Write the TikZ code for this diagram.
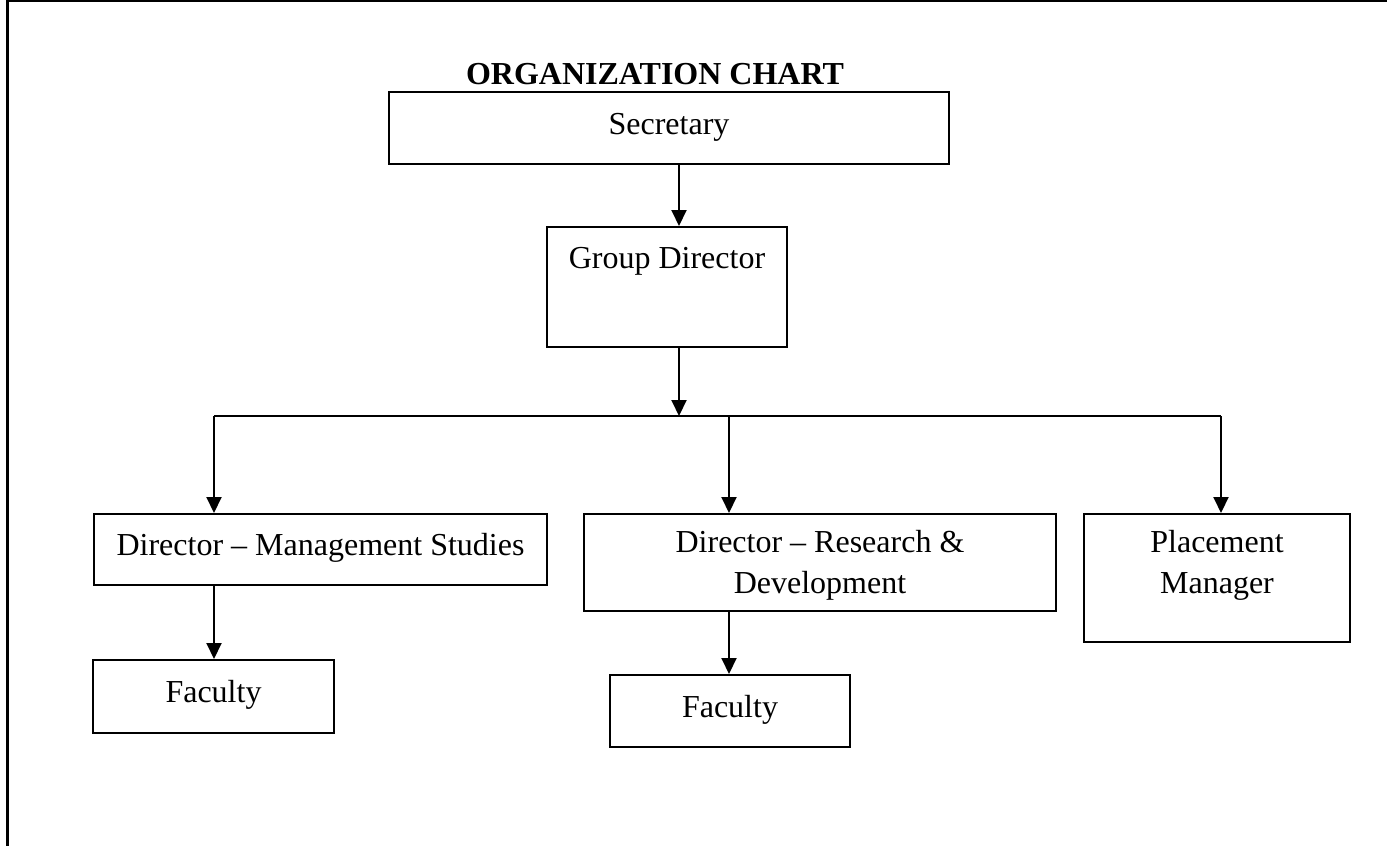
\documentclass[tikz,border=0pt]{standalone}
\usepackage{fontspec}
\setmainfont{Liberation Serif}
\usepackage{tikz}
\usetikzlibrary{arrows.meta}
\tikzset{
 box/.style={draw, line width=2pt, anchor=north, inner xsep=0pt, inner ysep=0pt,
  text height=20pt, text depth=8pt, align=center, font=\fontsize{32}{41}\selectfont},
 topbox/.style={box, inner ysep=18pt, text height=61pt, text depth=#1},
 arr/.style={line width=2pt, -{Triangle[width=15pt,length=16pt]}}
}

\begin{document}
\begin{tikzpicture}[x=1pt,y=-1pt]
\useasboundingbox (0,0) rectangle (1387,846);
\draw[line width=2.5pt] (7.5,846) -- (7.5,1) -- (1387,1);

\node[anchor=base, font=\fontsize{32}{41}\selectfont\bfseries] (title) at (655,84) {ORGANIZATION CHART};
\node[box, minimum width=560pt, minimum height=72pt] (sec) at (669,91) {Secretary};
\node[box, inner ysep=21pt, text depth=58pt, minimum width=240pt] (gd) at (667,226) {Group Director};
\node[box, minimum width=453pt, minimum height=71pt] (dms) at (320.5,513) {Director -- Management Studies};
\node[topbox=0pt, minimum width=472pt] (drd) at (820,513) {Director -- Research \&\\Development};
\node[topbox=31pt, minimum width=266pt] (pm) at (1217,513) {Placement\\Manager};
\node[box, minimum width=241pt, minimum height=73pt] (fac1) at (213.5,659) {Faculty};
\node[box, minimum width=240pt, minimum height=72pt] (fac2) at (730,674) {Faculty};

\coordinate (bus) at (679,416);
\coordinate (jl) at (214,416);
\coordinate (jm) at (729,416);
\coordinate (jr) at (1221,416);

\draw[arr] (sec.south -| bus) -- (gd.north -| bus);
\draw[arr] (gd.south -| bus) -- (bus);
\draw[line width=2pt] (jl) -- (jr);
\foreach \j/\b in {jl/dms, jm/drd, jr/pm}
 \draw[arr] (\j) -- (\j |- \b.north);
\draw[arr] (dms.south -| jl) -- (fac1.north -| jl);
\draw[arr] (drd.south -| jm) -- (fac2.north -| jm);

\end{tikzpicture}
\end{document}
